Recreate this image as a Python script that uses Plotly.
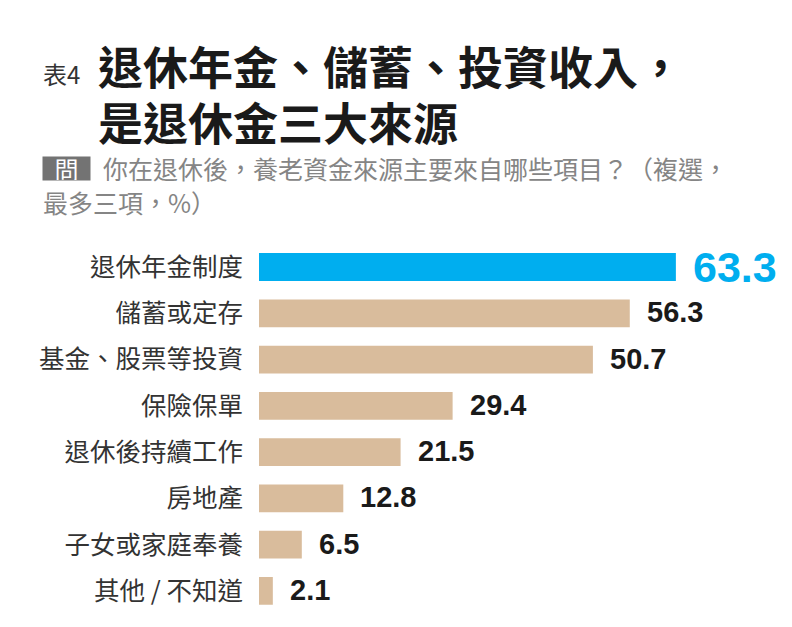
import plotly.graph_objects as go

categories = ["退休年金制度", "儲蓄或定存", "基金、股票等投資", "保險保單",
              "退休後持續工作", "房地產", "子女或家庭奉養", "其他 / 不知道"]
values = [63.3, 56.3, 50.7, 29.4, 21.5, 12.8, 6.5, 2.1]
value_labels = ["63.3", "56.3", "50.7", "29.4", "21.5", "12.8", "6.5", "2.1"]

BLUE = "#00AEEF"
TAN = "#D9BC9C"
CJK = "Noto Sans CJK TC"

W, H = 792, 627
OFF = 8  # browser body margin pushes the figure by 8px
ML, MR, MT, MB = 259 - OFF, 80, 241 - OFF, 21
PW, PH = W - ML - MR, H - MT - MB


def px(x, y):
    """target picture pixel -> paper coords"""
    return (x - OFF - ML) / PW, 1 - (y - OFF - MT) / PH


bar_colors = [BLUE] + [TAN] * (len(values) - 1)

fig = go.Figure(
    go.Bar(
        x=values,
        y=categories,
        orientation="h",
        marker=dict(color=bar_colors, line=dict(width=0)),
        width=0.6,
        hoverinfo="skip",
    )
)

# value labels next to each bar
for i, (cat, val, lab) in enumerate(zip(categories, values, value_labels)):
    big = i == 0
    fig.add_annotation(
        x=val, y=cat, xref="x", yref="y",
        text=f"<b>{lab}</b>",
        xanchor="left", yanchor="middle",
        xshift=15, yshift=0 if big else 1,
        showarrow=False,
        font=dict(family="Liberation Sans, Arial", size=43 if big else 29,
                  color=BLUE if big else "#1a1a1a"),
    )


def text_at(x, y, text, size, color, **kw):
    fx, fy = px(x, y)
    fig.add_annotation(
        x=fx, y=fy, xref="paper", yref="paper", text=text,
        showarrow=False, xanchor="left", yanchor="middle",
        font=dict(family=CJK, size=size, color=color), **kw,
    )


# title block
text_at(41, 74, "表4", 24, "#333")
text_at(96, 66, "<b>退休年金、儲蓄、投資收入，</b>", 45, "#1a1a1a")
text_at(96, 121, "<b>是退休金三大來源</b>", 45, "#1a1a1a")
text_at(42, 168.5, "問", 24, "white",
        bgcolor="#737373", borderpad=0, width=47, height=23)
text_at(101, 168, "你在退休後，養老資金來源主要來自哪些項目？（複選，", 25, "#858585")
text_at(41, 202, "最多三項，%）", 25, "#858585")

fig.update_layout(
    width=W,
    height=H,
    margin=dict(l=ML, r=MR, t=MT, b=MB, autoexpand=False),
    paper_bgcolor="white",
    plot_bgcolor="white",
    showlegend=False,
    xaxis=dict(range=[0, 70], visible=False, fixedrange=True),
    yaxis=dict(
        autorange="reversed",
        showgrid=False, zeroline=False, showline=False,
        ticks="", ticklabelstandoff=15,
        tickfont=dict(family=CJK, size=25.5, color="#333"),
        fixedrange=True,
    ),
)

fig.write_html("out.html")
